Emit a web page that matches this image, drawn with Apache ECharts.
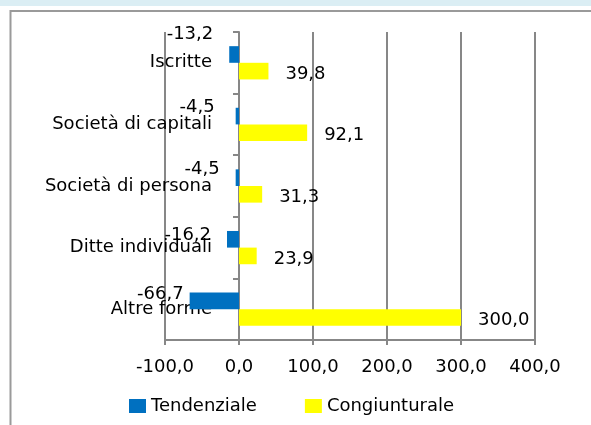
<!DOCTYPE html>
<html>
<head>
<meta charset="utf-8">
<script src="https://cdn.jsdelivr.net/npm/echarts@6/dist/echarts.min.js"></script>
<style>
  html, body { margin: 0; padding: 0; background: #fff; }
  #chart { width: 591px; height: 425px; }
</style>
</head>
<body>
<div id="chart"></div>
<script>
// categorie (dall'alto in basso)
var categories = ['Iscritte', 'Società di capitali', 'Società di persona', 'Ditte individuali', 'Altre forme'];
// variazioni percentuali
var tendenziale = [-13.2, -4.5, -4.5, -16.2, -66.7];
var congiunturale = [39.8, 92.1, 31.3, 23.9, 300.0];
// asse x
var xMin = -100, xMax = 400, xStep = 100;

// spostamento delle etichette blu (come nel grafico originale)
var blueLabelOffset = [[0, -20], [-5, -9], [0, -8], [0, -4], [10, -7]];

var FONT = 'DejaVu Sans';
var GRAY = '#878787';

function fmt(v) {
	return Number(v).toFixed(1).replace('.', ',');
}

var chart = echarts.init(document.getElementById('chart'));

chart.setOption({
	animation: false,
	textStyle: { fontFamily: FONT },
	graphic: [
		// striscia azzurra in alto
		{ type: 'rect', shape: { x: 0, y: 0, width: 591, height: 6 }, style: { fill: '#dbeef4' }, silent: true },
		// cornice
		{ type: 'polyline', shape: { points: [[10.5, 425], [10.5, 11], [591, 11]] },
		  style: { stroke: '#9a9a9a', lineWidth: 2, fill: null }, silent: true }
	],
	grid: {
		left: 165,
		right: 56,
		top: 32,
		bottom: 85,
		containLabel: false,
		outerBoundsMode: 'none'
	},
	legend: {
		left: 124,
		top: 392,
		itemWidth: 17,
		itemHeight: 14,
		itemGap: 48,
		icon: 'rect',
		textStyle: { fontFamily: FONT, fontSize: 18, color: '#000' },
		data: ['Tendenziale', 'Congiunturale']
	},
	xAxis: {
		type: 'value',
		min: xMin,
		max: xMax,
		interval: xStep,
		axisLine: { show: true, lineStyle: { color: GRAY, width: 2 } },
		axisTick: { show: true, length: 5, lineStyle: { color: GRAY, width: 2 } },
		splitLine: { show: true, lineStyle: { color: GRAY, width: 2 } },
		axisLabel: {
			margin: 18,
			fontFamily: FONT,
			fontSize: 18,
			color: '#000',
			formatter: fmt
		}
	},
	yAxis: {
		type: 'category',
		inverse: true,
		data: categories,
		axisLine: { show: true, onZero: true, lineStyle: { color: GRAY, width: 2 } },
		axisTick: { show: true, length: 6, lineStyle: { color: GRAY, width: 2 } },
		axisLabel: {
			margin: -47,
			fontFamily: FONT,
			fontSize: 18,
			color: '#000',
			padding: [5, 0, 0, 0]
		}
	},
	series: [
		{
			name: 'Tendenziale',
			type: 'bar',
			barGap: '0%',
			barCategoryGap: '46%',
			itemStyle: { color: '#0070c0' },
			data: tendenziale.map(function (v, i) {
				return {
					value: v,
					label: { offset: blueLabelOffset[i] }
				};
			}),
			label: {
				show: true,
				position: 'left',
				distance: 16,
				fontFamily: FONT,
				fontSize: 18,
				color: '#000',
				formatter: function (p) { return fmt(p.value); }
			}
		},
		{
			name: 'Congiunturale',
			type: 'bar',
			barGap: '0%',
			barCategoryGap: '46%',
			itemStyle: { color: '#ffff00' },
			data: congiunturale,
			label: {
				show: true,
				position: 'right',
				distance: 17,
				offset: [0, 3],
				fontFamily: FONT,
				fontSize: 18,
				color: '#000',
				formatter: function (p) { return fmt(p.value); }
			}
		}
	]
});
</script>
</body>
</html>
